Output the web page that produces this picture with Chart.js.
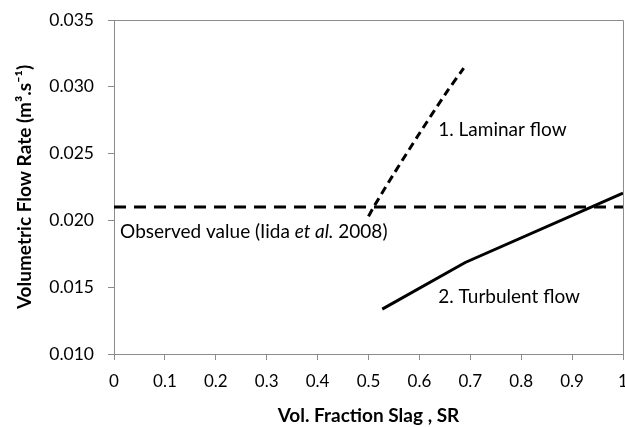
<!DOCTYPE html>
<html>
<head>
<meta charset="utf-8">
<script src="https://cdn.jsdelivr.net/npm/chart.js@4.4.1/dist/chart.umd.min.js"></script>
<style>
  html, body { margin: 0; padding: 0; background: #fff; overflow: hidden; }
  #wrap { width: 625px; height: 427px; position: relative; }
</style>
</head>
<body>
<div id="wrap"><canvas id="c" width="625" height="427"></canvas></div>
<script>
// ---- Data ----
const observedX = [0, 1];
const observedY = [0.021, 0.021];

const laminarX = [0.500, 0.510, 0.550, 0.600, 0.650, 0.687];
const laminarY = [0.0203, 0.0210, 0.0235, 0.0265, 0.0294, 0.0314];

const turbulentX = [0.527, 0.690, 1.000];
const turbulentY = [0.01336, 0.01685, 0.02204];

const xTicks = [0, 0.1, 0.2, 0.3, 0.4, 0.5, 0.6, 0.7, 0.8, 0.9, 1];
const yTicks = [0.010, 0.015, 0.020, 0.025, 0.030, 0.035];

const xTitle = 'Vol. Fraction Slag , SR';
const yTitle = 'Volumetric Flow Rate (m\u00B3.s\u207B\u00B9)';

const FONT = 'Lato, "Open Sans", sans-serif';

function pts(xs, ys) { return xs.map((x, i) => ({ x: x, y: ys[i] })); }

// Annotations (label text in data coordinates)
const annotations = [
  { x: 0.637, y: 0.02677, parts: [{ t: '1. Laminar flow' }] },
  { x: 0.637, y: 0.01428, parts: [{ t: '2. Turbulent flow' }] },
  { x: 0.012, y: 0.01914, parts: [{ t: 'Observed value (Iida ' }, { t: 'et al.', i: true }, { t: ' 2008)' }] }
];

const framePlugin = {
  id: 'frame',
  afterDatasetsDraw(chart) {
    const { ctx, chartArea: a } = chart;
    ctx.save();
    ctx.strokeStyle = '#8c8c8c';
    ctx.lineWidth = 1;
    ctx.beginPath();
    ctx.moveTo(a.left, a.top + 0.5);
    ctx.lineTo(a.right + 0.5, a.top + 0.5);
    ctx.lineTo(a.right + 0.5, a.bottom);
    ctx.stroke();
    ctx.restore();
  }
};

const textPlugin = {
  id: 'texts',
  afterDraw(chart) {
    const ctx = chart.ctx;
    const xs = chart.scales.x, ys = chart.scales.y;
    ctx.save();
    ctx.fillStyle = '#000';
    ctx.textBaseline = 'middle';
    ctx.textAlign = 'left';
    annotations.forEach(an => {
      let px = xs.getPixelForValue(an.x);
      const py = ys.getPixelForValue(an.y);
      an.parts.forEach(p => {
        ctx.font = (p.i ? 'italic ' : '') + '19px ' + FONT;
        ctx.fillText(p.t, px, py);
        px += ctx.measureText(p.t).width;
      });
    });
    ctx.restore();
  }
};

new Chart(document.getElementById('c'), {
  type: 'scatter',
  data: {
    datasets: [
      { label: 'Observed', data: pts(observedX, observedY), showLine: true,
        borderColor: '#000', borderWidth: 3, borderDash: [12, 8], pointRadius: 0, fill: false },
      { label: 'Laminar', data: pts(laminarX, laminarY), showLine: true, tension: 0.3,
        borderColor: '#000', borderWidth: 3, borderDash: [8, 5], pointRadius: 0, fill: false },
      { label: 'Turbulent', data: pts(turbulentX, turbulentY), showLine: true,
        borderColor: '#000', borderWidth: 3, pointRadius: 0, fill: false }
    ]
  },
  options: {
    responsive: false,
    animation: false,
    layout: { padding: { left: 0, right: 2, top: 20, bottom: 0 } },
    plugins: { legend: { display: false }, tooltip: { enabled: false } },
    scales: {
      x: {
        type: 'linear', min: 0, max: 1,
        afterBuildTicks(s) { s.ticks = xTicks.map(v => ({ value: v })); },
        afterFit(s) { s.height = 73; s.paddingLeft = 0; s.paddingRight = 0; },
        grid: { drawOnChartArea: false, drawTicks: true, tickLength: 6, color: '#8c8c8c' },
        border: { display: true, color: '#8c8c8c' },
        ticks: { color: '#000', padding: 11, maxRotation: 0, autoSkip: false,
          font: { family: FONT, size: 17 },
          callback: v => String(Math.round(v * 10) / 10) },
        title: { display: true, text: xTitle, color: '#000',
          font: { family: FONT, size: 19, weight: 'bold' }, padding: { top: 0, bottom: 0 } }
      },
      y: {
        type: 'linear', min: 0.010, max: 0.035,
        afterBuildTicks(s) { s.ticks = yTicks.map(v => ({ value: v })); },
        afterFit(s) { s.width = 114; s.paddingTop = 0; s.paddingBottom = 0; },
        grid: { drawOnChartArea: false, drawTicks: true, tickLength: 6, color: '#8c8c8c' },
        border: { display: true, color: '#8c8c8c' },
        ticks: { color: '#000', padding: 14, autoSkip: false,
          font: { family: FONT, size: 17.5 },
          callback: v => v.toFixed(3) },
        title: { display: true, text: yTitle, color: '#000',
          font: { family: FONT, size: 19, weight: 'bold' }, padding: { top: 13, bottom: 13 } }
      }
    }
  },
  plugins: [framePlugin, textPlugin]
});
</script>
</body>
</html>
